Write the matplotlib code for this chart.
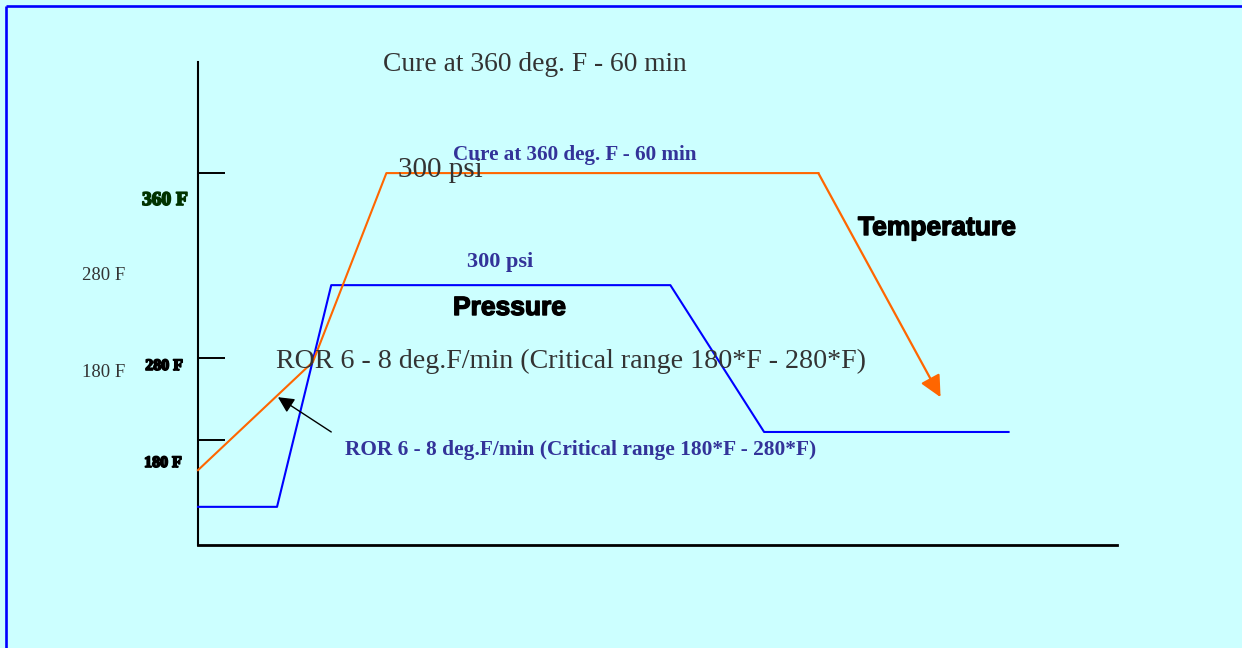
import matplotlib
matplotlib.use("Agg")
import matplotlib.pyplot as plt
from matplotlib import font_manager as fm
from matplotlib.lines import Line2D
import matplotlib.patheffects as pe

# ---------------- data (schematic units: time 0-100, level 0-100) ----------------
temp_time = [0, 12.5, 20.5, 67.5]
temp_level = [15.5, 37.9, 77.0, 77.0]
cool_end_time = 80.8
cool_end_level = 30.6

press_time = [0, 8.6, 14.5, 51.4, 61.6, 88.2]
press_level = [7.9, 7.9, 53.8, 53.8, 23.4, 23.4]

tick_values = [77.0, 38.7, 21.7]
tick_labels = ["360 F", "280 F", "180 F"]
tick_colors = ["#003300", "#000000", "#000000"]

ror_arrow_tail = (14.5, 23.4)
ror_arrow_head = (8.7, 30.6)

# ---------------- figure ----------------
W, H = 1242, 648
BG = "#CCFFFF"
ORANGE = "#FF6600"
BLUE = "#0000FF"
NAVY = "#333399"
GRAY = "#333333"

names = {f.name for f in fm.fontManager.ttflist}
SERIF = "Liberation Serif" if "Liberation Serif" in names else "DejaVu Serif"
if "Liberation Sans Narrow" in names:
    SANS, sans_size = "Liberation Sans Narrow", 23
else:
    SANS, sans_size = ("Liberation Sans" if "Liberation Sans" in names else "DejaVu Sans"), 19

fig = plt.figure(figsize=(W / 100, H / 100), dpi=100, facecolor=BG)

def fx(x):
    return x / W

def fy(y):
    return 1 - y / H

# blue frame (top and left edges)
fig.add_artist(Line2D([fx(6), 1.0], [fy(6), fy(6)], color=BLUE, lw=1.9, solid_capstyle="butt"))
fig.add_artist(Line2D([fx(6), fx(6)], [fy(6), 0.0], color=BLUE, lw=1.9, solid_capstyle="butt"))

left, right, top, bottom = 198, 1117, 62, 545
ax = fig.add_axes([fx(left), fy(bottom), (right - left) / W, (bottom - top) / H])
ax.set_facecolor("none")
ax.set_xlim(0, 100)
ax.set_ylim(0, 100)
for s in ("top", "right"):
    ax.spines[s].set_visible(False)
ax.spines["left"].set_linewidth(1.5)
ax.spines["bottom"].set_linewidth(2.0)
ax.set_xticks([])
ax.set_yticks(tick_values)
ax.set_yticklabels([])
ax.tick_params(axis="y", direction="in", length=19.5, width=1.4, color="black")

# pressure
ax.plot(press_time, press_level, color=BLUE, lw=1.5, clip_on=False, zorder=3)
# temperature
ax.plot(temp_time, temp_level, color=ORANGE, lw=1.5, clip_on=False, zorder=3)
ax.annotate("", xy=(cool_end_time, cool_end_level), xytext=(temp_time[-1], temp_level[-1]),
            arrowprops=dict(arrowstyle="-|>,head_length=0.65,head_width=0.32", color=ORANGE,
                            lw=1.6, mutation_scale=20, shrinkA=0, shrinkB=0))
# ROR pointer arrow
ax.annotate("", xy=ror_arrow_head, xytext=ror_arrow_tail,
            arrowprops=dict(arrowstyle="-|>,head_length=0.6,head_width=0.3", color="black",
                            lw=1.0, mutation_scale=16, shrinkA=0, shrinkB=0))

# tick labels
tick_label_pos = [(188, 205, 14), (183, 370, 11.5), (182, 467, 11.5)]
for lab, col, (x, y, sz) in zip(tick_labels, tick_colors, tick_label_pos):
    fig.text(fx(x), fy(y), lab, family=SERIF, fontsize=sz, fontweight="bold", color=col,
             ha="right", va="baseline",
             path_effects=[pe.withStroke(linewidth=1.2, foreground=col)])

# left grey labels
fig.text(fx(82), fy(280), "280 F", family=SERIF, fontsize=13.5, color=GRAY, va="baseline")
fig.text(fx(82), fy(377), "180 F", family=SERIF, fontsize=13.5, color=GRAY, va="baseline")

# grey serif annotations
fig.text(fx(383), fy(71), "Cure at 360 deg. F - 60 min", family=SERIF, fontsize=19.8,
         color=GRAY, va="baseline")
fig.text(fx(398), fy(177), "300 psi", family=SERIF, fontsize=21, color=GRAY, va="baseline")
fig.text(fx(276), fy(368), "ROR 6 - 8 deg.F/min (Critical range 180*F - 280*F)", family=SERIF,
         fontsize=20.2, color=GRAY, va="baseline")

# navy bold serif annotations
fig.text(fx(453), fy(160), "Cure at 360 deg. F - 60 min", family=SERIF, fontsize=15.2,
         fontweight="bold", color=NAVY, va="baseline")
fig.text(fx(467), fy(267), "300 psi", family=SERIF, fontsize=16, fontweight="bold",
         color=NAVY, va="baseline")
fig.text(fx(345), fy(455), "ROR 6 - 8 deg.F/min (Critical range 180*F - 280*F)", family=SERIF,
         fontsize=15.4, fontweight="bold", color=NAVY, va="baseline")

# black bold sans labels
fig.text(fx(453), fy(315), "Pressure", family=SANS, fontsize=sans_size, fontweight="bold",
         color="black", va="baseline",
         path_effects=[pe.withStroke(linewidth=1.0, foreground="black")])
fig.text(fx(858), fy(235), "Temperature", family=SANS, fontsize=sans_size, fontweight="bold",
         color="black", va="baseline",
         path_effects=[pe.withStroke(linewidth=1.0, foreground="black")])

fig.savefig("out.png", dpi=100, facecolor=BG)
